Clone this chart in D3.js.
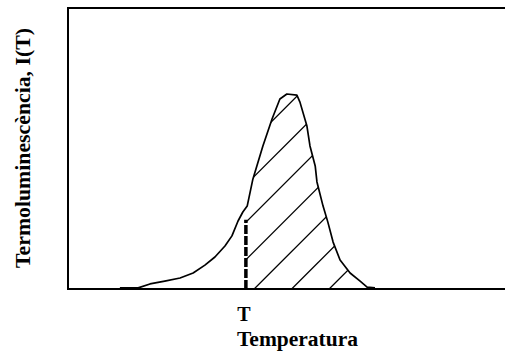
<!DOCTYPE html>
<html>
<head>
<meta charset="utf-8">
<script src="https://cdn.jsdelivr.net/npm/d3@7/dist/d3.min.js"></script>
<style>
  html, body { margin: 0; padding: 0; background: #fff; }
  svg { display: block; }
  text { font-family: "Liberation Serif", "DejaVu Serif", serif; font-weight: bold; fill: #000; }
</style>
</head>
<body>
<svg id="chart" width="505" height="353"></svg>
<script>
// Glow curve: temperature (arbitrary units) and thermoluminescence intensity I(T)
const temperature = [11.9, 16.1, 18.8, 22.2, 25.7, 28.7, 31.4, 33.7, 36.0, 37.6, 39.0, 40.1, 41.1,
  42.4, 44.7, 46.8, 48.6, 50.2, 52.5, 53.2, 54.8, 55.5, 56.7, 57.1, 58.5, 59.6, 60.8, 62.4,
  64.7, 67.0, 68.6, 70.4];
const intensity = [0.4, 0.4, 1.8, 2.8, 3.9, 5.7, 8.5, 11.4, 15.3, 18.9, 24.2, 27.4, 29.5,
  39.1, 50.9, 60.5, 67.6, 69.4, 69.0, 66.5, 58.0, 50.9, 43.8, 38.1, 29.5, 23.8, 16.7, 10.3,
  5.7, 2.8, 0.7, 0.4];

// Reading temperature T and the height of its marker line
const markTemp = [40.8];
const markTop = [24.6];
const markLabel = ["T"];

const xTitle = "Temperatura";
const yTitle = "Termoluminescència, I(T)";

const svg = d3.select("#chart");
const m = { left: 68, top: 8, right: 504, bottom: 289 };

const x = d3.scaleLinear().domain([0, 100]).range([m.left, m.right]);
const y = d3.scaleLinear().domain([0, 100]).range([m.bottom, m.top]);

const pts = temperature.map((t, i) => [t, intensity[i]]);

// Intensity on the rising side of the curve at temperature t
function riseAt(t) {
  const peak = d3.maxIndex(intensity);
  for (let i = 0; i < peak; i++) {
    if (temperature[i] <= t && t <= temperature[i + 1]) {
      const f = (t - temperature[i]) / (temperature[i + 1] - temperature[i]);
      return intensity[i] + f * (intensity[i + 1] - intensity[i]);
    }
  }
  return 0;
}

// Region under the curve beyond T, used to clip the hatching
const T = markTemp[0];
const tail = pts.filter(p => p[0] > T);
const region = [[T, 0], [T, riseAt(T)], ...tail, [tail[tail.length - 1][0], 0]];

svg.append("defs").append("clipPath").attr("id", "under")
  .append("path")
  .attr("d", d3.line().x(d => x(d[0])).y(d => y(d[1]))(region) + "Z");

// Diagonal hatching (45° in screen space), every 37.5 px along the baseline
const step = 37.5;
const x0 = x(42.7);
const starts = d3.range(-5, 3).map(k => x0 + k * step);
svg.append("g").attr("clip-path", "url(#under)")
  .selectAll("line").data(starts).join("line")
  .attr("x1", d => d).attr("y1", m.bottom)
  .attr("x2", d => d + 260).attr("y2", m.bottom - 260)
  .attr("stroke", "#000").attr("stroke-width", 1.3);

// Glow curve
svg.append("path")
  .datum(pts)
  .attr("fill", "none")
  .attr("stroke", "#000")
  .attr("stroke-width", 1.7)
  .attr("stroke-linejoin", "round")
  .attr("d", d3.line().x(d => x(d[0])).y(d => y(d[1])));

// Dashed marker at T
svg.selectAll("line.mark").data(markTemp).join("line")
  .attr("class", "mark")
  .attr("x1", d => x(d)).attr("x2", d => x(d))
  .attr("y1", y(0)).attr("y2", (d, i) => y(markTop[i]))
  .attr("stroke", "#000").attr("stroke-width", 3.5)
  .attr("stroke-dasharray", "9,2");

// Frame (right edge runs off the canvas)
svg.append("path")
  .attr("d", `M${m.right + 10},${m.top}H${m.left}V${m.bottom}H${m.right + 10}`)
  .attr("fill", "none").attr("stroke", "#000").attr("stroke-width", 2);

// Labels
svg.selectAll("text.tick").data(markTemp).join("text")
  .attr("class", "tick")
  .attr("x", d => x(d) - 2).attr("y", 321)
  .attr("text-anchor", "middle")
  .attr("font-size", 20)
  .text((d, i) => markLabel[i]);

svg.append("text")
  .attr("x", 237).attr("y", 346)
  .attr("font-size", 20)
  .attr("textLength", 121).attr("lengthAdjust", "spacingAndGlyphs")
  .text(xTitle);

svg.append("text")
  .attr("transform", "translate(30,148) rotate(-90)")
  .attr("text-anchor", "middle")
  .attr("font-size", 20)
  .attr("textLength", 240).attr("lengthAdjust", "spacingAndGlyphs")
  .text(yTitle);
</script>
</body>
</html>
